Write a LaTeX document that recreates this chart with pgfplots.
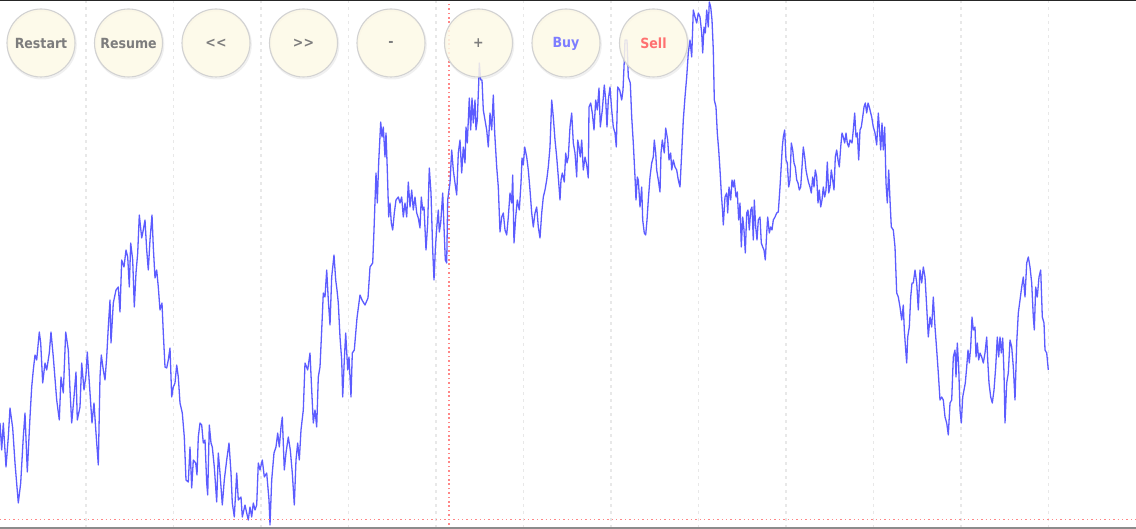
\documentclass[border=0pt]{standalone}
\usepackage{fontspec}
\usepackage{pgfplots}
\pgfplotsset{compat=1.18}
\setmainfont{DejaVu Sans Condensed}

\definecolor{lineblue}{RGB}{92,92,255}
\definecolor{gridgray}{RGB}{232,232,232}
\definecolor{markred}{RGB}{255,135,135}
\definecolor{btnfill}{RGB}{253,249,230}
\definecolor{btnedge}{RGB}{210,210,210}
\definecolor{btntext}{RGB}{125,125,125}
\definecolor{buytext}{RGB}{125,125,255}
\definecolor{selltext}{RGB}{255,112,112}
\definecolor{bottombar}{RGB}{140,140,140}

% one round button of the replay toolbar
\newcommand{\btn}[3]{%
  \draw[black, opacity=0.06, line width=2pt] (axis cs:#1,43) ++(0.8pt,-1.5pt) circle[radius=34pt];
  \fill[btnfill, fill opacity=0.86] (axis cs:#1,43) circle[radius=34pt];
  \draw[btnedge, line width=1.1pt] (axis cs:#1,43) circle[radius=34pt];
  \node[text=#3, font=\fontsize{14}{14}\selectfont\bfseries] at (axis cs:#1,43.5) {#2};
}

\begin{document}
\begin{tikzpicture}
% current bar marker (canvas coordinates, behind the price line)
\draw[color=markred, line width=1.5pt, dash pattern=on 1.5pt off 2.9pt] (449pt,0pt) -- (449pt,529pt);
\begin{axis}[
    x=1pt, y=1pt,
    xmin=0, xmax=1136, ymin=0, ymax=529,
    y dir=reverse,
    axis line style={draw=none},
    xtick={86,173.5,261,348.5,436,523.5,611,698.5,786,873.5,961,1048.5},
    ytick=\empty,
    xticklabels={},
    major tick length=0pt,
    xmajorgrids,
    major grid style={color=gridgray, line width=1.2pt, dash pattern=on 3pt off 4pt},
  ]
  % price series (screen coordinates, y grows downwards)
  \addplot[lineblue, line width=1.3pt, mark=none, line join=round] table {
x y
0 423
1.7 450
3.3 423
6 467
8.3 437
10 408
12.7 428
15 463
18.3 503
20.7 483
23.3 437
25 413
27.3 472
30 417
31.7 387
33.3 370
35 355
36.7 360
39.3 332
40.7 343
42.7 383
45 363
46.7 370
49.3 353
51 332
53.3 357
56.7 400
59.3 420
61 377
63.3 393
65.7 332
68.3 350
70 390
71.7 423
74 397
76 372
77.3 420
80 407
81.7 363
84 390
86 375
87.3 352
90 393
92 423
94 403
96 433
98.3 465
100 377
101.3 355
103.3 370
105 380
106.7 357
108.3 327
110 300
111 343
113.3 303
116 290
118.3 287
120 312
121.7 260
124 267
126 250
127.7 257
129.3 287
130.7 243
132.7 260
134.3 307
136 273
137.7 253
139.3 215
141.7 238
143.3 230
145 220
146.7 250
148.3 270
150 240
152 215
153.3 247
155 278
156.7 270
158.3 287
160 310
162 303
163.3 333
165 367
166.7 368
168.3 360
170 348
171.7 397
173.3 387
175 383
176.7 365
178.3 377
180 403
182.3 413
184.3 437
186 480
188.3 482
190 447
191.7 488
193.3 460
195.7 463
197 475
198.3 437
200 423
201.7 425
203.3 443
205 440
206.7 483
207.7 495
209.3 425
211 443
212.3 447
214.3 467
216.7 502
218.3 453
220 473
222.3 505
224.3 480
226.7 460
229 443
231 473
232.3 503
234.3 517
236.7 473
238.3 500
241 497
242.3 517
245 505
246.7 513
248.3 520
250 507
251.7 517
253.3 503
255 510
256.7 505
258.3 463
260 470
262.3 460
264.3 477
266.7 473
269 500
270 525
271.7 480
274 453
276 447
277.7 433
279.3 447
281 427
282.3 417
284.3 470
286 453
288.3 437
290.3 450
292.3 473
294.3 505
296 460
297.7 443
299.3 460
301 430
303.3 410
305 363
307.7 370
310 353
311.7 390
313.3 423
315 410
316.7 427
318.3 377
320 367
321.7 330
323.3 293
325 297
326.7 270
328.3 300
330 325
331.7 277
334 255
335.7 280
337 290
338.3 303
340 337
341.7 360
342.7 397
344.3 360
345.7 333
347.7 370
349 357
351 397
352.3 353
354.3 350
357 318
360 295
362 300
365 305
368 298
370 267
372.7 263
374 230
376 173
377.3 203
378.7 162
380.7 122
382 137
383.3 127
385 157
386 133
387.3 170
388.7 217
390 203
391.3 223
392.7 230
394.3 213
396 200
398.3 197
400 203
401.7 197
403.3 217
405 203
406.7 217
408.3 182
410 207
411.7 190
413.3 210
415 197
416.7 213
418.3 218
420 228
421.3 197
422.7 210
424 207
426 250
427.7 223
429.3 168
431 193
432.7 250
434 280
435.3 250
436.7 228
438.3 210
439.3 232
440.7 223
442.7 193
444 227
445.3 260
446.7 263
447.7 200
449 190
450 183
451.7 150
453.3 170
455 183
456.7 195
458.3 153
460 140
461.7 173
463.3 147
465 163
466 127
467.3 143
469.3 98
470.7 130
472 98
473.3 123
475 100
476 130
477.3 120
478.7 83
479.3 63
480.7 80
482 80
483.3 110
485 120
486.7 130
488.3 147
490 113
491.7 130
493.3 95
494.7 133
496.7 167
498.3 187
500 232
501.7 217
503.3 213
505 230
506.7 235
508.3 217
510 193
511.7 203
512.7 175
514 243
515.7 217
517.3 200
519.3 210
521 183
522 158
523.3 165
524.7 147
526.7 157
528.3 170
530 190
531.7 213
533.3 227
535 213
536.7 207
538.3 227
540 238
541.7 213
543.3 197
545 190
546.7 180
548.3 167
550 147
551.7 100
553.3 117
555 140
556.7 157
558.3 177
560 200
561 180
562.3 173
564.3 182
565.7 153
567 163
568.3 157
570 127
571.7 113
573.3 143
575 153
576.7 177
577.7 140
579 147
580.3 157
581.7 140
583.3 170
585 157
586.7 165
588.3 178
589 107
590.7 103
592.3 113
594 130
595.7 100
597.3 110
599 88
600.3 127
602.3 110
604.3 85
605.7 100
607 127
608.3 100
610 87
611.7 110
613.3 127
615 133
616.3 147
617.7 87
619.7 90
621.7 100
623 90
624.3 60
625 40
627 40
628.3 77
630.3 83
631.7 117
633.3 143
635 177
636 200
637.3 177
638.3 180
640 207
641.7 187
642.7 220
644.3 233
645.7 235
647 220
648.3 200
650 177
651.7 163
653.3 157
654.3 140
655.7 153
656.7 170
658.3 180
660 192
661 153
662.3 140
664.3 153
665.7 128
667.7 140
669 160
670.7 153
671.7 170
673.3 160
675 167
676.7 170
678.3 180
680 187
681.7 153
683.3 120
685 97
686.7 77
688.3 53
690 40
691.7 57
693.3 10
695 17
696.7 23
698.3 13
700 17
701.7 33
702.7 53
704 27
705.3 33
706.7 10
708.3 27
709.3 2
710.7 7
712 20
713.3 50
714.3 100
716 107
717.3 133
718.7 150
720 170
721.3 193
722.7 213
723.3 225
725 197
726.7 193
727.7 213
729 187
730.7 200
732 180
733.3 187
734.3 180
736 197
737.3 192
738.7 220
740 203
741.3 247
742.7 217
744 230
745.3 253
746.7 213
748 210
749.3 230
750.7 210
752 207
753.3 240
754.3 200
755.7 227
757 240
758.3 220
760 217
761.3 243
762.7 247
764 250
765.3 260
766.7 233
767.7 217
769.3 233
770.7 227
772 230
773.3 220
775 217
776.7 213
778.3 212
780 187
781 170
782.3 147
783.3 137
784.7 130
786 160
787.3 163
788.7 187
790 180
791.3 143
792.7 150
794 163
795.3 167
796.7 180
798 183
799.3 190
800.7 187
802 167
803.3 147
804.7 157
806 170
807.3 177
808.7 183
810 187
811.3 193
812.7 177
814 187
815.3 170
816.7 177
818 203
819.3 190
820.7 207
822 200
823.3 187
824.7 197
826 190
827.3 162
828.7 193
830 187
831.3 170
832.7 180
834 190
835.3 157
836.7 150
838 160
839.3 167
840.7 147
842 133
843.3 137
844.7 143
846 133
847.3 143
848.7 147
850 140
852 143
853.3 130
854.7 113
856 137
857.3 133
858.7 160
860 130
861.3 127
862.7 117
864 107
865.3 103
866.7 113
868 103
869.3 107
870.7 113
871.7 117
873.3 127
875 133
876.7 145
878.3 113
879.3 127
880.7 150
882 123
883.3 150
884.7 127
886 183
887.3 203
888.7 170
890 200
891.3 227
893.3 230
895 247
896.7 293
898.3 297
900 307
901.7 320
903.3 305
904.3 330
905.7 350
906.7 363
907.7 337
909.3 327
910.7 297
912 283
913.3 283
915 270
916.7 283
918.3 310
920 270
921.7 283
923.3 267
925 277
926.7 307
928.3 337
930 317
931.7 327
933.3 297
935 327
936.7 350
938.3 373
940 400
941.7 397
943.3 400
945 417
946.7 423
948.3 435
950 403
951.7 400
953.3 357
955 350
956 377
957.3 343
958.7 367
960 410
961.3 423
962.7 397
964 390
965.3 383
966.7 367
968 350
969.3 363
970.7 347
972 317
973.3 330
975 327
976 357
977.3 343
978.7 360
980 353
981.7 357
983.3 363
985 353
986.7 337
987.7 360
989 383
990.7 397
992.3 403
994 390
995.7 367
997.3 337
998.7 357
1000 337
1001.3 353
1002.7 338
1004 373
1005 423
1006.7 383
1008.3 373
1010 340
1011.7 347
1013.3 367
1015 400
1016.7 343
1018.3 313
1020 300
1021.7 287
1023.3 277
1025 297
1026.7 263
1028.3 257
1030 267
1031.7 283
1033.3 317
1034.3 330
1035.7 287
1037.3 297
1039 277
1040.7 270
1042.3 317
1044 323
1045 350
1046.7 353
1048.3 370
  };

  % frame lines of the window
  \draw[black!85, line width=1.4pt] (axis cs:0,0.7) -- (axis cs:1136,0.7);
  \fill[bottombar] (axis cs:0,526.6) rectangle (axis cs:1136,529);

  % toolbar
  \btn{41}{Restart}{btntext}
  \btn{128.5}{Resume}{btntext}
  \btn{216}{<{}<}{btntext}
  \btn{303.5}{>{}>}{btntext}
  \btn{391}{-}{btntext}
  \btn{478.5}{+}{btntext}
  \btn{566}{Buy}{buytext}
  \btn{653.5}{Sell}{selltext}
\end{axis}
% price level marker
\draw[color=markred, line width=1.4pt, dash pattern=on 1.4pt off 3pt] (0pt,9.7pt) -- (1136pt,9.7pt);
\pgfresetboundingbox
\useasboundingbox (current axis.south west) rectangle (current axis.north east);
\end{tikzpicture}
\end{document}
